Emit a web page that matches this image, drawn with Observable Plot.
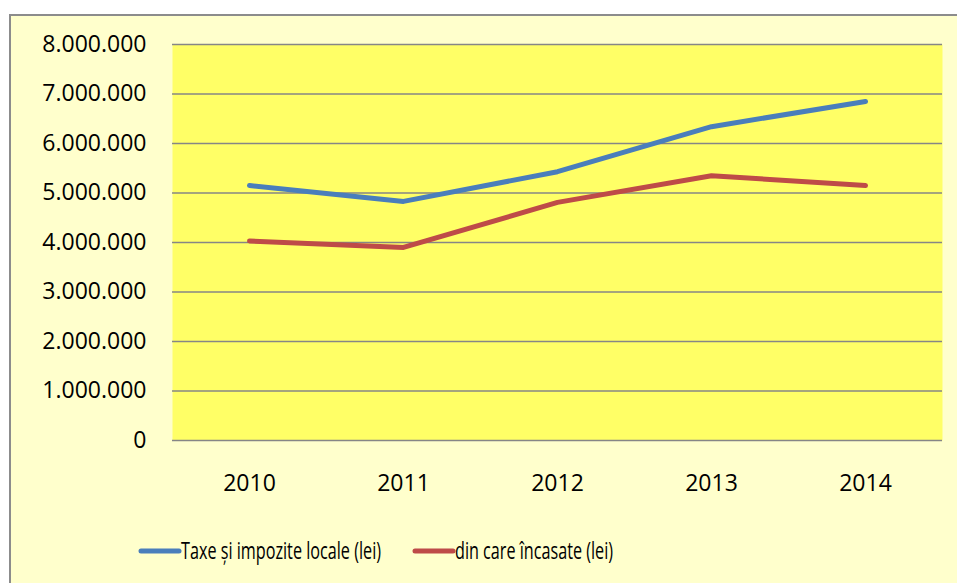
<!DOCTYPE html>
<html>
<head>
<meta charset="utf-8">
<script src="https://cdn.jsdelivr.net/npm/d3@7"></script>
<script src="https://cdn.jsdelivr.net/npm/@observablehq/plot@0.6"></script>
<style>
  html, body { margin: 0; padding: 0; background: #ffffff; }
  body { width: 957px; height: 583px; overflow: hidden; position: relative; font-family: "Open Sans", sans-serif; }
  #box { position: absolute; left: 9px; top: 14px; width: 960px; height: 580px; border: 2px solid #8c8c8c; background: #FFFFCC; box-sizing: border-box; }
  #chart { position: absolute; left: 0; top: 0; }
  #legend { position: absolute; left: 0; top: 510px; }
</style>
</head>
<body>
<div id="box">
  <div id="chart"></div>
  <svg id="legend" width="946" height="60"></svg>
</div>
<script>
const years = ["2010", "2011", "2012", "2013", "2014"];
const seriesNames = ["Taxe și impozite locale (lei)", "din care încasate (lei)"];
const taxe = [5150000, 4830000, 5430000, 6340000, 6850000];
const incasate = [4030000, 3900000, 4810000, 5350000, 5150000];
const yTicks = [0, 1000000, 2000000, 3000000, 4000000, 5000000, 6000000, 7000000, 8000000];
const colors = ["#4A7EBB", "#BE4B48"];

const data = [
  ...years.map((y, i) => ({year: y, value: taxe[i], series: seriesNames[0]})),
  ...years.map((y, i) => ({year: y, value: incasate[i], series: seriesNames[1]}))
];

const ro = d3.formatLocale({decimal: ",", thousands: ".", grouping: [3], currency: ["", ""]});
const fmt = ro.format(",d");

const plot = Plot.plot({
  width: 946,
  height: 500,
  marginLeft: 161,
  marginRight: 15,
  marginTop: 28,
  marginBottom: 76,
  style: {background: "transparent", fontFamily: "Open Sans, sans-serif", fontSize: "23px", color: "#000"},
  x: {type: "point", domain: years, padding: 0.5, label: null},
  y: {domain: [0, 8000000], label: null},
  color: {domain: seriesNames, range: colors},
  marks: [
    Plot.frame({fill: "#FFFF66", stroke: null}),
    Plot.ruleY(yTicks, {stroke: "#868686", strokeWidth: 1.6}),
    Plot.axisY({ticks: yTicks, tickFormat: fmt, tickSize: 0, tickPadding: 26, label: null, fontSize: 23, fill: "#000"}),
    Plot.axisX({tickSize: 0, tickPadding: 34, label: null, fontSize: 23, fill: "#000"}),
    Plot.line(data, {x: "year", y: "value", stroke: "series", z: "series", strokeWidth: 5, strokeLinecap: "round", strokeLinejoin: "round"})
  ]
});
document.getElementById("chart").appendChild(plot);

// Legend (real text, drawn from the series arrays)
const leg = d3.select("#legend");
const legItems = [
  {name: seriesNames[0], color: colors[0], x0: 130, x1: 168, tx: 170, tl: 200},
  {name: seriesNames[1], color: colors[1], x0: 404, x1: 442, tx: 444, tl: 158}
];
const ly = 551 - 16 - 510;
legItems.forEach(it => {
  leg.append("line").attr("x1", it.x0).attr("x2", it.x1).attr("y1", ly).attr("y2", ly)
    .attr("stroke", it.color).attr("stroke-width", 5).attr("stroke-linecap", "round");
  leg.append("text").attr("x", it.tx).attr("y", ly).attr("dy", "0.36em")
    .attr("font-family", "Open Sans, sans-serif").attr("font-size", 23)
    .attr("textLength", it.tl).attr("lengthAdjust", "spacingAndGlyphs")
    .attr("fill", "#000").text(it.name);
});
</script>
</body>
</html>
